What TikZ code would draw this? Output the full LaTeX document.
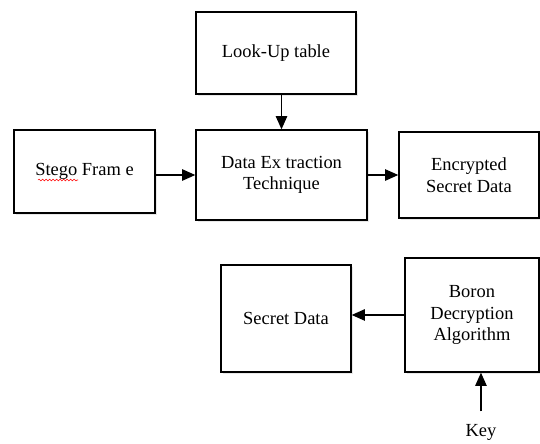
\documentclass[tikz,border=0pt]{standalone}
\usepackage{fontspec}
\setmainfont{Liberation Serif}
\usetikzlibrary{positioning, arrows.meta, shadows, decorations.pathmorphing}

\begin{document}
\begin{tikzpicture}[x=0.02cm, y=-0.02cm, on grid,
    >={Triangle[length=7.5pt,width=6.5pt]},
    block/.style={draw, line width=0.8pt, fill=white, align=center,
      font=\fontsize{10.5}{12.2}\selectfont,
      drop shadow={opacity=0.18, shadow xshift=1pt, shadow yshift=-1pt}},
    flow/.style={->, line width=0.7pt}]
  \useasboundingbox (0,0) rectangle (540,443);

  \node[block, minimum width=3.42cm, minimum height=1.8cm]  (dext) at (281.5,175)  {Data Ex traction\\Technique};
  \node[block, minimum width=3.2cm, minimum height=1.64cm]  (lut)   [above=2.44cm of dext, xshift=-0.11cm] {Look-Up table};
  \node[block, minimum width=2.82cm, minimum height=1.66cm] (stego) [left=3.94cm of dext, yshift=0.07cm]  {Stego Fram e};
  \node[block, minimum width=2.8cm, minimum height=1.72cm]  (enc)   [right=3.75cm of dext] {Encrypted\\Secret Data};
  \node[block, minimum width=2.68cm, minimum height=2.28cm] (boron) [below=2.8cm of enc, xshift=0.06cm] {Boron\\Decryption\\Algorithm};
  \node[block, minimum width=2.6cm, minimum height=2.14cm]  (sdata) [left=3.72cm of boron, yshift=-0.07cm] {Secret Data};
  \node[font=\fontsize{10.5}{12.2}\selectfont, inner sep=7pt] (key) [below=2.34cm of boron, xshift=0.18cm] {Key};

  \draw[red, line width=0.3pt, decorate, decoration={snake, amplitude=0.5pt, segment length=2pt}]
    (38,180) -- (78,180);

  \draw[flow] (lut.south -| dext.north) -- (dext.north);
  \draw[flow] (stego.east |- dext) -- (dext.west);
  \draw[flow] (dext.east) -- (dext.east -| enc.west);
  \draw[flow] (boron.west) -- (boron.west -| sdata.east);
  \draw[flow] (key.north) -- (key.north |- boron.south);
\end{tikzpicture}
\end{document}
